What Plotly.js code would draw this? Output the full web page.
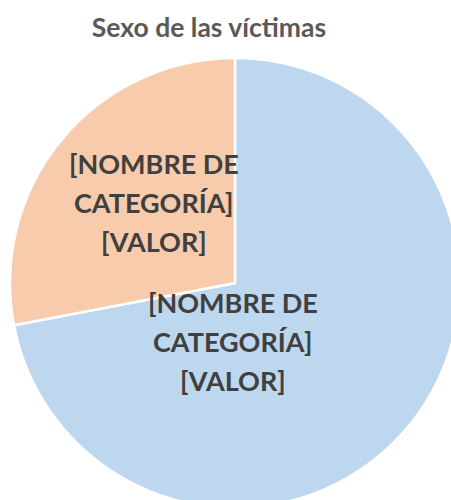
<!DOCTYPE html>
<html>
<head>
<meta charset="utf-8">
<script src="https://cdn.plot.ly/plotly-3.0.1.min.js"></script>
<style>
html, body { margin: 0; padding: 0; overflow: hidden; background: #fff; }
#chart { width: 470px; height: 520px; }
</style>
</head>
<body>
<div id="chart"></div>
<script>
// Data
const categories = ['[NOMBRE DE CATEGORÍA]', '[NOMBRE DE CATEGORÍA]'];
const values = [72, 28];
const valueLabels = ['[VALOR]', '[VALOR]'];
const colors = ['#BDD7EE', '#F8CBAD'];
const chartTitle = 'Sexo de las víctimas';

const W = 470, H = 520;
const M = { l: 10, r: 10, t: 58, b: 12 };
const pw = W - M.l - M.r, ph = H - M.t - M.b;
const px = x => (x - M.l) / pw;
const py = y => 1 - (y - M.t) / ph;

// label anchor centres (pixels) for each slice
const labelPos = [ { x: 233, y: 302 }, { x: 154, y: 163 } ];
const lineGap = 39;

function splitName(name) {
  const i = name.lastIndexOf(' ');
  return [name.slice(0, i), name.slice(i + 1)];
}

const annotations = [];
categories.forEach((c, i) => {
  const lines = splitName(c).concat([valueLabels[i]]);
  lines.forEach((t, k) => {
    annotations.push({
      text: t, showarrow: false, xref: 'paper', yref: 'paper',
      x: px(labelPos[i].x), y: py(labelPos[i].y + k * lineGap),
      xanchor: 'center', yanchor: 'middle',
      font: { family: 'Lato, sans-serif', size: 27, color: '#404040', weight: 'bold' }
    });
  });
});

const trace = {
  type: 'pie',
  labels: categories.map((c, i) => c + ' ' + i),
  values: values,
  sort: false,
  direction: 'clockwise',
  rotation: 0,
  textinfo: 'none',
  hoverinfo: 'none',
  marker: { colors: colors, line: { color: '#ffffff', width: 2.5 } },
  showlegend: false
};

const layout = {
  width: W, height: H,
  margin: M,
  paper_bgcolor: '#ffffff',
  title: {
    text: chartTitle,
    xref: 'container', yref: 'container',
    x: 209 / W, y: 1 - 28 / H, xanchor: 'center', yanchor: 'middle',
    font: { family: 'Lato, sans-serif', size: 26.5, color: '#595959', weight: 'bold' }
  },
  annotations: annotations
};

Plotly.newPlot('chart', [trace], layout, { staticPlot: true, displayModeBar: false });
</script>
</body>
</html>
